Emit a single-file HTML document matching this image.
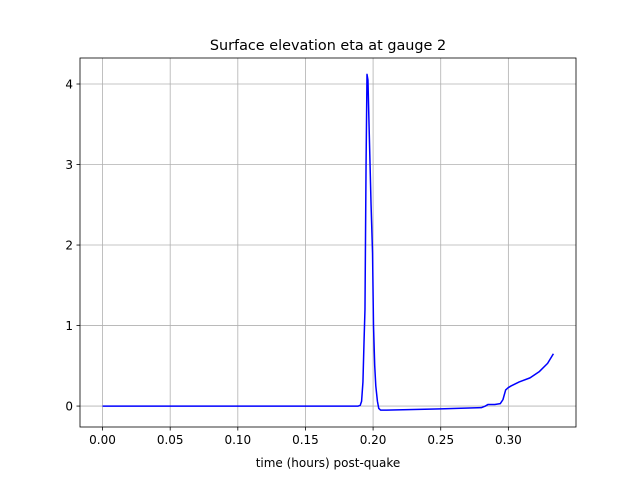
<!DOCTYPE html>
<html><head><meta charset="utf-8"><style>
body{margin:0;background:#fff}
text{font-family:"DejaVu Sans","Liberation Sans",sans-serif;fill:#000}
</style></head><body>
<svg id="chart" width="640" height="480">
<rect width="640" height="480" fill="#fff"/>
<g id="grid"></g><g id="axes"></g>
<polyline id="series" fill="none" stroke="#0000ff" stroke-width="1.5" stroke-linejoin="round"/>
<rect x="80" y="58" width="496" height="369" fill="none" stroke="#000" stroke-width="0.8"/>
<text x="328" y="50" text-anchor="middle" font-size="14.4">Surface elevation eta at gauge 2</text>
<text x="328" y="467" text-anchor="middle" font-size="12">time (hours) post-quake</text>
</svg>
<script>
const xTicks=[0,0.05,0.10,0.15,0.20,0.25,0.30];
const xTickLabels=["0.00","0.05","0.10","0.15","0.20","0.25","0.30"];
const yTicks=[0,1,2,3,4];
const yTickLabels=["0","1","2","3","4"];
const times=[0,0.05,0.10,0.15,0.189,0.1905,0.1915,0.1925,0.1933,0.194,0.1948,0.1955,0.1962,0.197,0.1985,0.1996,0.2003,0.2012,0.202,0.2032,0.2042,0.2055,0.21,0.25,0.28,0.283,0.285,0.29,0.294,0.296,0.298,0.3,0.302,0.308,0.316,0.323,0.329,0.3333];
const eta=[0,0,0,0,0,0.01,0.06,0.3,0.8,1.2,3.0,4.12,4.05,3.5,2.5,1.9,1.0,0.5,0.25,0.06,-0.03,-0.05,-0.05,-0.035,-0.02,0,0.02,0.02,0.03,0.08,0.2,0.23,0.25,0.3,0.35,0.43,0.53,0.65];
const X0=-0.016667,X1=0.35,Y0=-0.26,Y1=4.323,L=80,R=576,T=58,B=427;
const sx=v=>L+(v-X0)/(X1-X0)*(R-L);
const sy=v=>B-(v-Y0)/(Y1-Y0)*(B-T);
const NS="http://www.w3.org/2000/svg";
const grid=document.getElementById('grid'),axes=document.getElementById('axes');
function mk(tag,attrs,parent){const e=document.createElementNS(NS,tag);for(const k in attrs)e.setAttribute(k,attrs[k]);parent.appendChild(e);return e;}
xTicks.forEach((t,i)=>{const x=sx(t);
const g=mk('line',{x1:x,x2:x,y1:T,y2:B,stroke:'#b0b0b0','stroke-width':0.8},grid);


const tk=mk('line',{x1:x,x2:x,y1:B,y2:B+3.5,stroke:'#000','stroke-width':0.8},axes);


const tx=mk('text',{x:x,y:B+17,'text-anchor':'middle','font-size':12},axes);tx.textContent=xTickLabels[i];

});
yTicks.forEach((t,i)=>{const y=sy(t);
const g=mk('line',{x1:L,x2:R,y1:y,y2:y,stroke:'#b0b0b0','stroke-width':0.8},grid);


const tk=mk('line',{x1:L-3.5,x2:L,y1:y,y2:y,stroke:'#000','stroke-width':0.8},axes);


const tx=mk('text',{x:L-7,y:y+4.5,'text-anchor':'end','font-size':12},axes);tx.textContent=yTickLabels[i];

});
document.getElementById('series').setAttribute('points',times.map((t,i)=>sx(t)+','+sy(eta[i])).join(' '));
</script>
</body></html>
